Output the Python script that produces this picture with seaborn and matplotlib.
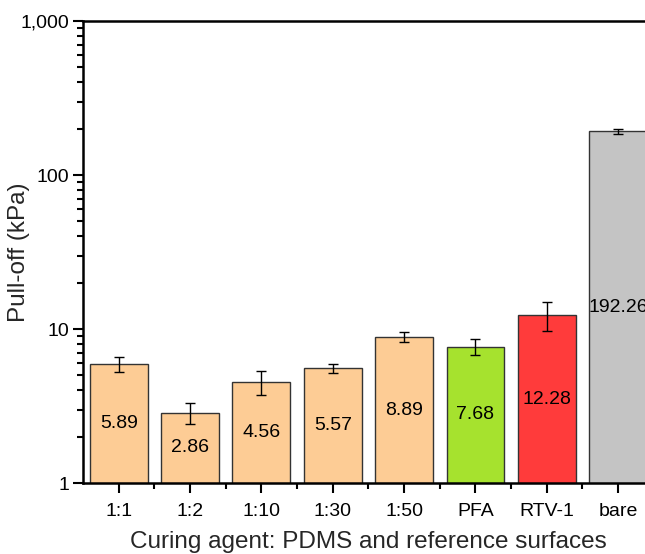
import seaborn as sns
import matplotlib.pyplot as plt
import matplotlib.ticker as mticker
import numpy as np
import pandas as pd

# data
categories = ["1:1", "1:2", "1:10", "1:30", "1:50", "PFA", "RTV-1", "bare"]
pull_off = [5.89, 2.86, 4.56, 5.57, 8.89, 7.68, 12.28, 192.26]
errors = [0.66, 0.44, 0.80, 0.36, 0.65, 0.88, 2.6, 7.0]
bar_colors = ["#FDCC95", "#FDCC95", "#FDCC95", "#FDCC95", "#FDCC95",
              "#A6E22E", "#FF3B3B", "#C4C4C4"]

df = pd.DataFrame({"group": categories, "value": pull_off})

sns.set_theme(style="white")
plt.rcParams["font.family"] = ["Liberation Sans", "DejaVu Sans"]

fig = plt.figure(figsize=(6.45, 5.54), dpi=100)
ax = fig.add_axes([0.1287, 0.128, 0.885, 0.834])

sns.barplot(
    data=df, x="group", y="value", hue="group",
    palette=bar_colors, saturation=1, legend=False, errorbar=None,
    width=0.81, edgecolor="#333333", linewidth=1.0, ax=ax
)

x = np.arange(len(categories))
ax.errorbar(x, pull_off, yerr=errors, fmt="none", ecolor="black",
            elinewidth=1.0, capsize=3.5, capthick=1.0)

# value labels in the (log) middle of each bar
for xi, v in zip(x, pull_off):
    ax.text(xi, np.sqrt(v), f"{v:.2f}", ha="center", va="center",
            fontsize=14, color="black")

ax.set_yscale("log")
ax.set_ylim(1, 1000)
ax.set_xlim(-0.5, 7.5)
ax.yaxis.set_major_locator(mticker.FixedLocator([1, 10, 100, 1000]))
ax.yaxis.set_major_formatter(mticker.FuncFormatter(lambda v, p: f"{int(round(v)):,}"))
ax.yaxis.set_minor_locator(mticker.LogLocator(base=10, subs=np.arange(2, 10)))
ax.yaxis.set_minor_formatter(mticker.NullFormatter())
ax.xaxis.set_minor_locator(mticker.FixedLocator(x[:-1] + 0.5))

ax.tick_params(axis="both", which="major", direction="out", length=7,
               width=1.5, labelsize=14, color="black", labelcolor="black",
               bottom=True, left=True)
ax.tick_params(axis="both", which="minor", direction="out", length=4,
               width=1.5, color="black", bottom=True, left=True)
ax.tick_params(axis="x", pad=7)
ax.tick_params(axis="y", pad=3)

for side in ["left", "top", "bottom", "right"]:
    ax.spines[side].set_color("black")
    ax.spines[side].set_linewidth(1.8)

ax.set_xlabel("Curing agent: PDMS and reference surfaces", fontsize=17.5, labelpad=8)
ax.set_ylabel("Pull-off (kPa)", fontsize=17.5)
ax.yaxis.set_label_coords(-0.093, 0.5)

fig.savefig("out.png", dpi=100)
